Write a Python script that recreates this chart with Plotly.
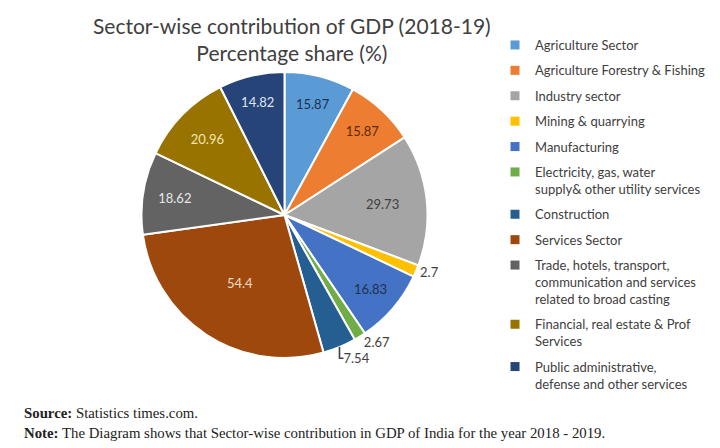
import plotly.graph_objects as go

# sector labels and their share values
sectors = ['Agriculture Sector', 'Agriculture Forestry & Fishing', 'Industry sector',
           'Mining & quarrying', 'Manufacturing',
           'Electricity, gas, water<br>supply& other utility services', 'Construction',
           'Services Sector',
           'Trade, hotels, transport,<br>communication and services<br>related to broad casting',
           'Financial, real estate & Prof<br>Services',
           'Public administrative,<br>defense and other services']
shares = [15.87, 15.87, 29.73, 2.7, 16.83, 2.67, 7.54, 54.4, 18.62, 20.96, 14.82]

colors = ['#5B9BD5', '#ED7D31', '#A5A5A5', '#FFC000', '#4472C4', '#70AD47',
          '#255E91', '#9E480E', '#636363', '#997300', '#264478']
text_colors = ['#1f3050', '#5a2a0a', '#404040', '#404040', '#1f3050', '#404040',
               '#404040', '#f4d9c6', '#e8e8e8', '#f3e6b0', '#dfe6f2']
text_pos = ['inside', 'inside', 'inside', 'outside', 'inside', 'outside',
            'outside', 'inside', 'inside', 'inside', 'inside']

fig = go.Figure()
fig.add_trace(go.Pie(labels=sectors, values=shares, sort=False, direction='clockwise', rotation=0,
                     marker={'colors': colors, 'line': {'color': 'white', 'width': 2}},
                     texttemplate='%{value}', textposition=text_pos,
                     insidetextorientation='horizontal',
                     textfont={'size': 13, 'color': text_colors, 'family': 'Lato'},
                     outsidetextfont={'size': 13, 'color': '#404040', 'family': 'Lato'},
                     domain={'x': [132 / 720, 421 / 720], 'y': [1 - 350 / 448, 1 - 64 / 448]},
                     showlegend=False, hoverinfo='label+value'))

# legend entries as dummy traces so the spacing between entries can be set
for i, (s, c) in enumerate(zip(sectors, colors)):
    fig.add_trace(go.Scatter(x=[None], y=[None], mode='markers', name=s, legendgroup=str(i),
                             marker={'symbol': 'square', 'size': 9, 'color': c}))

fig.update_layout(
    width=720, height=448, margin={'l': 0, 'r': 0, 't': 0, 'b': 0},
    paper_bgcolor='white', plot_bgcolor='white',
    xaxis={'visible': False}, yaxis={'visible': False},
    legend={'x': 487 / 720, 'xanchor': 'left', 'y': 1 - 22 / 448, 'yanchor': 'top',
            'valign': 'top', 'tracegroupgap': 5.5,
            'font': {'family': 'Lato', 'size': 13, 'color': '#404040'}},
    annotations=[
        {'text': 'Sector-wise contribution of GDP (2018-19)<br>Percentage share (%)',
         'x': 284 / 720, 'y': 1 - 3 / 448, 'xref': 'paper', 'yref': 'paper',
         'xanchor': 'center', 'yanchor': 'top', 'showarrow': False,
         'font': {'family': 'Lato', 'size': 21, 'color': '#404040'}},
        {'text': '<b>Source:</b> Statistics times.com.', 'x': 14 / 720, 'y': 1 - 405 / 448,
         'xref': 'paper', 'yref': 'paper', 'xanchor': 'left', 'yanchor': 'middle', 'showarrow': False,
         'font': {'family': 'Liberation Serif', 'size': 14.8, 'color': '#222222'}},
        {'text': '<b>Note:</b> The Diagram shows that Sector-wise contribution in GDP of India for the year 2018 - 2019.',
         'x': 14 / 720, 'y': 1 - 425 / 448,
         'xref': 'paper', 'yref': 'paper', 'xanchor': 'left', 'yanchor': 'middle', 'showarrow': False,
         'font': {'family': 'Liberation Serif', 'size': 14.8, 'color': '#222222'}},
    ])

fig.write_html("out.html")
